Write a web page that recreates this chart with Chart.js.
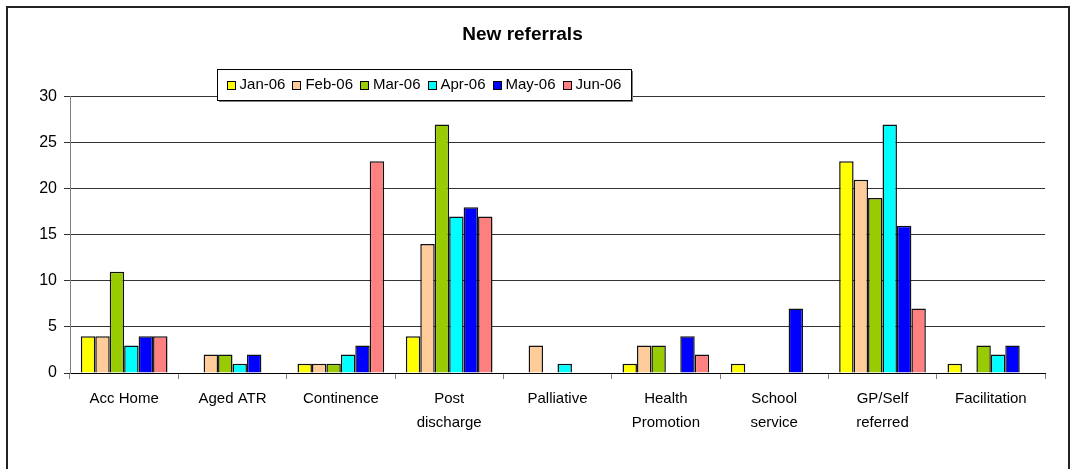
<!DOCTYPE html>
<html lang="en">
<head>
    <meta charset="UTF-8">
    <title>New referrals</title>
    <script src="https://cdn.jsdelivr.net/npm/chart.js"></script>
    <style>
        body {
            margin: 0;
            background: #fff;
        }
        .chart-container {
            width: 1071px;
            height: 469px;
        }
    </style>
</head>
<body>
    <div class="chart-container">
        <canvas id="referralChart" width="1071" height="469"></canvas>
    </div>

    <script>
        // categories and monthly counts
        const categories = [
            'Acc Home', 'Aged ATR', 'Continence', ['Post', 'discharge'], 'Palliative',
            ['Health', 'Promotion'], ['School', 'service'], ['GP/Self', 'referred'], 'Facilitation'
        ];
        const months = ['Jan-06', 'Feb-06', 'Mar-06', 'Apr-06', 'May-06', 'Jun-06'];

        const jan06 = [4, 0, 1, 4, 0, 1, 1, 23, 1];
        const feb06 = [4, 2, 1, 14, 3, 3, 0, 21, 0];
        const mar06 = [11, 2, 1, 27, 0, 3, 0, 19, 3];
        const apr06 = [3, 1, 2, 17, 1, 0, 0, 27, 2];
        const may06 = [4, 2, 3, 18, 0, 4, 7, 16, 3];
        const jun06 = [4, 0, 23, 17, 0, 2, 0, 7, 0];

        const yTicks = [0, 5, 10, 15, 20, 25, 30];

        const colors = ['#FFFF00', '#FFCC99', '#99CC00', '#00FFFF', '#0000FF', '#FF8080'];
        const series = [jan06, feb06, mar06, apr06, may06, jun06];

        Chart.defaults.font.family = 'Arial, "Liberation Sans", sans-serif';
        Chart.defaults.color = '#000';

        // outer frame + boxed legend, like the spreadsheet chart
        const frameAndLegend = {
            id: 'frameAndLegend',
            afterDraw(chart) {
                const c = chart.ctx;
                c.save();
                c.strokeStyle = '#222';
                c.lineWidth = 2;
                c.beginPath();
                c.moveTo(7, 475);
                c.lineTo(7, 7);
                c.lineTo(1069, 7);
                c.lineTo(1069, 475);
                c.stroke();

                // legend box
                const bx = 217, by = 69, bw = 414, bh = 31;
                c.fillStyle = '#808080';
                c.fillRect(bx + 2, by + 2, bw, bh);
                c.fillStyle = '#fff';
                c.fillRect(bx, by, bw, bh);
                c.strokeStyle = '#000';
                c.lineWidth = 1;
                c.strokeRect(bx + 0.5, by + 0.5, bw, bh);

                c.font = '15px Arial, "Liberation Sans", sans-serif';
                c.textBaseline = 'middle';
                const sw = 8, gap1 = 5, gap2 = 7;
                let total = 0;
                chart.data.datasets.forEach((ds, i) => {
                    total += sw + gap1 + c.measureText(ds.label).width;
                    if (i > 0) total += gap2;
                });
                let x = bx + (bw - total) / 2;
                const cy = by + bh / 2 + 0.5;
                chart.data.datasets.forEach(ds => {
                    c.fillStyle = ds.backgroundColor;
                    c.fillRect(Math.round(x) + 0.5, Math.round(cy - sw / 2) + 0.5, sw, sw);
                    c.strokeStyle = '#000';
                    c.strokeRect(Math.round(x) + 0.5, Math.round(cy - sw / 2) + 0.5, sw, sw);
                    x += sw + gap1;
                    c.fillStyle = '#000';
                    c.fillText(ds.label, x, cy);
                    x += c.measureText(ds.label).width + gap2;
                });
                c.restore();
            }
        };

        const ctx = document.getElementById('referralChart').getContext('2d');

        const referralChart = new Chart(ctx, {
            type: 'bar',
            data: {
                labels: categories,
                datasets: months.map((m, i) => ({
                    label: m,
                    data: series[i],
                    backgroundColor: colors[i],
                    borderColor: '#111',
                    borderWidth: 1.5,
                    borderSkipped: 'start'
                }))
            },
            options: {
                responsive: false,
                animation: false,
                categoryPercentage: 0.8,
                barPercentage: 1.0,
                layout: {
                    padding: { left: 0, right: 26, top: 0, bottom: 0 }
                },
                plugins: {
                    legend: { display: false },
                    tooltip: { enabled: false },
                    title: {
                        display: true,
                        text: 'New referrals',
                        font: { size: 19, weight: 'bold' },
                        padding: { top: 23, bottom: 51 }
                    }
                },
                scales: {
                    x: {
                        grid: {
                            display: true,
                            drawOnChartArea: false,
                            tickLength: 6,
                            color: '#808080'
                        },
                        border: { color: '#000', width: 1 },
                        ticks: {
                            font: { size: 15, lineHeight: 1.6 },
                            padding: 8,
                            maxRotation: 0,
                            autoSkip: false
                        },
                        afterFit(scale) { scale.height = 96; }
                    },
                    y: {
                        min: 0,
                        max: 30,
                        afterBuildTicks(scale) {
                            scale.ticks = yTicks.map(v => ({ value: v }));
                        },
                        grid: {
                            color: '#333',
                            tickLength: 6
                        },
                        border: { color: '#808080', width: 1 },
                        ticks: {
                            font: { size: 16 },
                            padding: 7
                        },
                        afterFit(scale) { scale.width = 70; }
                    }
                }
            },
            plugins: [frameAndLegend]
        });
    </script>
</body>
</html>
